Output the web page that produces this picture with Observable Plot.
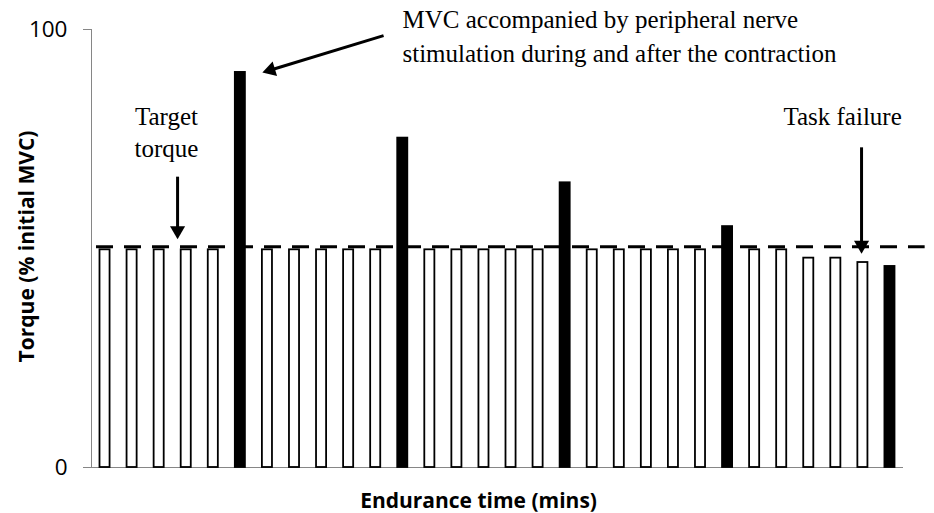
<!DOCTYPE html>
<html><head><meta charset="utf-8">
<script src="https://cdn.jsdelivr.net/npm/d3@7"></script>
<script src="https://cdn.jsdelivr.net/npm/@observablehq/plot@0.6"></script>
<style>body{margin:0;background:#fff} svg{display:block}</style>
</head><body><div id="chart"></div>
<script>
// Bar index along endurance time (1..30)
const bins = [1,2,3,4,5,6,7,8,9,10,11,12,13,14,15,16,17,18,19,20,21,22,23,24,25,26,27,28,29,30];
// Torque (% initial MVC)
const torque = [49.7,49.7,49.7,49.7,49.7,90.2,49.7,49.7,49.7,49.7,49.7,75.2,49.7,49.7,49.7,49.7,49.7,65.0,49.7,49.7,49.7,49.7,49.7,55.0,49.7,49.7,47.8,47.8,46.8,45.9];
// "sub" = submaximal contraction, "mvc" = MVC with nerve stimulation
const barKind = ["sub","sub","sub","sub","sub","mvc","sub","sub","sub","sub","sub","mvc","sub","sub","sub","sub","sub","mvc","sub","sub","sub","sub","sub","mvc","sub","sub","sub","sub","sub","mvc"];
const targetTorque = 50.4;
const yTicks = [0, 100];
const yLabel = "Torque (% initial MVC)";
const xLabel = "Endurance time (mins)";

// Annotation texts (data coordinates)
const noteText = ["Target\ntorque", "MVC accompanied by peripheral nerve\nstimulation during and after the contraction", "Task failure"];
const noteX = [3.77, 12.49, 28.75];
const noteY = [70.8, 92.5, 78.1];
const noteAnchor = ["middle", "start", "middle"];
const noteLine = [1.28, 1.36, 1.3];

// Annotation arrows: tail (x1,y1) to head centre (x2,y2)
const arrowX1 = [4.18, 11.79, 29.45];
const arrowY1 = [66.4, 98.6, 73.1];
const arrowX2 = [4.18, 7.62, 29.45];
const arrowY2 = [54.1, 90.75, 50.8];
const arrowAngle = [180, -107, 180];

const bars = bins.map((b, i) => ({bin: b, end: b + 1, torque: torque[i], kind: barKind[i]}));
const notes = noteText.map((t, i) => ({text: t, x: noteX[i], y: noteY[i], anchor: noteAnchor[i], lh: noteLine[i]}));
const arrows = arrowX1.map((_, i) => ({x1: arrowX1[i], y1: arrowY1[i], x2: arrowX2[i], y2: arrowY2[i], angle: arrowAngle[i]}));

const serif = "'Liberation Serif','Times New Roman',serif";
const sans = "'Open Sans', Lato, sans-serif";
const grey = "#868686";

const textMarks = notes.map(n => Plot.text([n], {
  x: "x", y: "y", text: "text", textAnchor: n.anchor, lineAnchor: "bottom",
  lineHeight: n.lh, fontSize: 25, fontFamily: serif, fill: "black"
}));

const chart = Plot.plot({
  width: 934,
  height: 513,
  marginTop: 29,
  marginBottom: 46,
  marginLeft: 91,
  marginRight: 9,
  style: {background: "white", overflow: "visible"},
  x: {type: "linear", domain: [1, 31], range: [91, 903], axis: null},
  y: {domain: [0, 100], axis: null},
  marks: [
    Plot.ruleX([1], {y1: 0, y2: 100, stroke: grey, strokeWidth: 1}),
    Plot.ruleY([0], {x1: 1, x2: 31, stroke: grey, strokeWidth: 1}),
    Plot.axisY(yTicks, {anchor: "left", tickSize: 8, stroke: grey, text: null, label: null}),
    Plot.text(yTicks, {x: 1, y: d => d, text: d => String(d), dx: -24, textAnchor: "end", lineAnchor: "middle",
      fontSize: 22.5, fontFamily: sans, fill: "black"}),
    Plot.rect(bars.filter(d => d.kind === "sub"), {x1: "bin", x2: "end", y1: 0, y2: "torque",
      insetLeft: 8.5, insetRight: 8.5, fill: "white", stroke: "black", strokeWidth: 1.8}),
    Plot.rect(bars.filter(d => d.kind === "mvc"), {x1: "bin", x2: "end", y1: 0, y2: "torque",
      insetLeft: 8.5, insetRight: 8.5, fill: "black", stroke: "black", strokeWidth: 1.8}),
    Plot.ruleY([targetTorque], {x1: 1.185, x2: 31.8, stroke: "black", strokeWidth: 3.2, strokeDasharray: "17,11"}),
    Plot.link(arrows, {x1: "x1", y1: "y1", x2: "x2", y2: "y2", stroke: "black", strokeWidth: 3}),
    Plot.dot(arrows, {x: "x2", y: "y2", symbol: "triangle", r: 5.6, rotate: "angle", fill: "black", stroke: "none"}),
    ...textMarks,
    Plot.text([xLabel], {x: 15.3, frameAnchor: "bottom", dy: 40, textAnchor: "middle", lineAnchor: "bottom",
      fontSize: 21, fontWeight: "bold", fontFamily: sans, fill: "black"}),
    Plot.text([yLabel], {frameAnchor: "left", rotate: -90, dx: -64, dy: -2, textAnchor: "middle", lineAnchor: "middle",
      fontSize: 21, fontWeight: "bold", fontFamily: sans, fill: "black"})
  ]
});
document.getElementById("chart").appendChild(chart);
</script>
</body></html>
